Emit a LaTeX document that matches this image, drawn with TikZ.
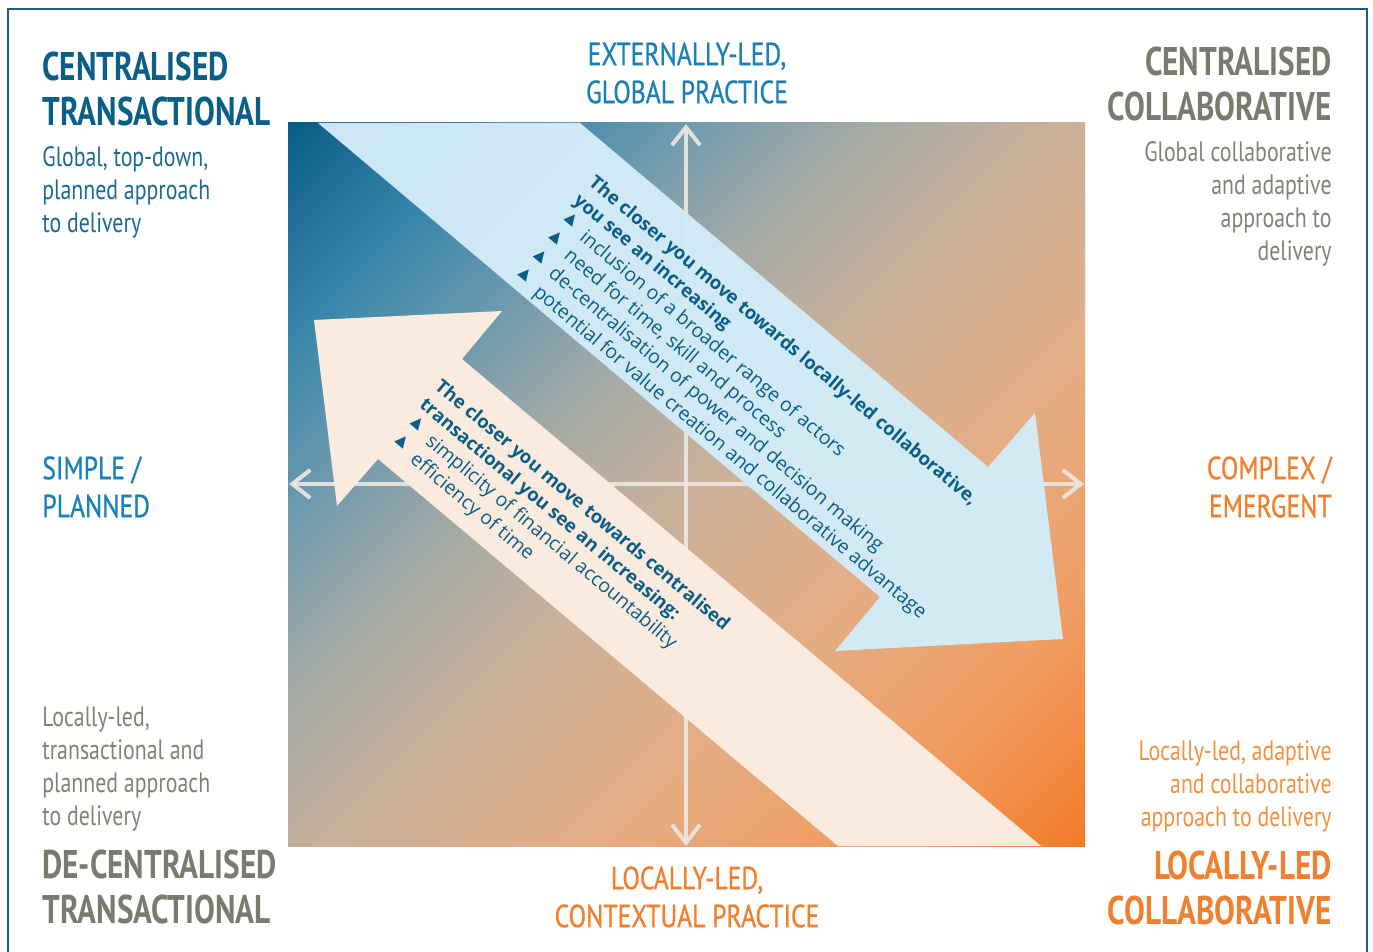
\documentclass[tikz,border=0pt]{standalone}
\usepackage{fontspec}
\usetikzlibrary{arrows.meta}
\newfontfamily\headfont{PT Sans}[FakeStretch=0.78]
\newfontfamily\labelfont{PT Sans}[FakeStretch=0.8, FakeBold=0.7]
\newfontfamily\arrowfont{Open Sans}
\newfontfamily\symfont{DejaVu Sans}

\definecolor{frameblue}{HTML}{1D5C88}
\definecolor{darkblue}{HTML}{0B5E87}
\definecolor{midblue}{HTML}{1A6A95}
\definecolor{axisblue}{HTML}{1A80B5}
\definecolor{headgray}{HTML}{7A7A6E}
\definecolor{textgray}{HTML}{818178}
\definecolor{headorange}{HTML}{F07F2E}
\definecolor{textorange}{HTML}{F3903F}
\definecolor{arrowblue}{HTML}{D3ECF8}
\definecolor{arrowcream}{HTML}{FBEBDF}
\definecolor{axisline}{HTML}{EEE8E2}
\definecolor{qa}{HTML}{0A5C88}
\definecolor{qb}{HTML}{3A87AA}
\definecolor{qc}{HTML}{6F9AAE}
\definecolor{qd}{HTML}{A3AAA6}
\definecolor{qe}{HTML}{C8B09A}
\definecolor{qf}{HTML}{E3AE86}
\definecolor{qg}{HTML}{F09D63}
\definecolor{qh}{HTML}{F47B2A}

\pgfdeclarehorizontalshading{quadrant}{100bp}{color(0bp)=(qa); color(14.6bp)=(qa);
  color(25bp)=(qb); color(33bp)=(qc); color(41bp)=(qd); color(50bp)=(qe);
  color(62bp)=(qf); color(74bp)=(qg); color(85.4bp)=(qh); color(100bp)=(qh)}

\newcommand{\arrowbullet}{\makebox[14pt][l]{\hspace{2pt}\raisebox{3.5pt}{\symfont\fontsize{7.5}{7}\selectfont ▲}}}
\newcommand{\arrowtitle}[1]{{\fontsize{9.3}{12}\selectfont\bfseries #1}}

\tikzset{
  heading/.style={inner sep=0, font={\headfont\bfseries\fontsize{20}{22.5}\selectfont}},
  body/.style={inner sep=0, font={\headfont\fontsize{14}{16.5}\selectfont}},
  axislabel/.style={inner sep=0, text=axisblue, font={\labelfont\fontsize{16}{19}\selectfont}},
  axis/.style={line width=2pt, draw=axisline, draw opacity=0.9, {Straight Barb[length=9pt,width=14pt]}-{Straight Barb[length=9pt,width=14pt]}},
  arrowtext/.style={inner sep=0, rotate=-40, anchor=north west, align=left, text=darkblue,
    font={\arrowfont\fontsize{9.75}{12}\selectfont}}
}

\begin{document}
\begin{tikzpicture}[x=0.5pt, y=-0.5pt]
\useasboundingbox (0,0) rectangle (1373,952);

% Frame
\draw[frameblue, line width=0.75pt] (8,952) -- (8,9) -- (1367,9) -- (1367,952);

% Square
\shade[shading=quadrant, shading angle=-45] (288,123) rectangle (1085,846);

% Axes
\draw[axis] (686,846) -- (686,124);
\draw[axis] (289,484) -- (1084,484);

% Arrows
\fill[arrowblue, fill opacity=0.97] (318,123) -- (580,123) -- (988,467) -- (1035,413)
  -- (1063,639) -- (835,651) -- (880,597) -- cycle;
\fill[arrowcream] (838,846) -- (378,459) -- (337,506) -- (314,320) -- (502,311)
  -- (462,359) -- (1041,846) -- cycle;

\node[arrowtext] (blue-text) at (597,173) {%
  \arrowtitle{The closer you move towards locally-led collaborative,}\\
  \arrowtitle{you see an increasing}\\
  \arrowbullet inclusion of a broader range of actors\\
  \arrowbullet need for time, skill and process\\
  \arrowbullet de-centralisation of power and decision making\\
  \arrowbullet potential for value creation and collaborative advantage};
\node[arrowtext] (cream-text) at (443,377) {%
  \arrowtitle{The closer you move towards centralised}\\
  \arrowtitle{transactional you see an increasing:}\\
  \arrowbullet simplicity of financial accountability\\
  \arrowbullet efficiency of time};

% Corner labels
\node[heading, text=darkblue, anchor=north west, align=left] (ct-title) at (42,52) {CENTRALISED\\TRANSACTIONAL};
\node[body, text=midblue, anchor=north west, align=left] (ct-text) at (42,146) {Global, top-down,\\planned approach\\to delivery};

\node[heading, text=headgray, anchor=north east, align=right] (cc-title) at (1332,47) {CENTRALISED\\COLLABORATIVE};
\node[body, text=textgray, anchor=north east, align=right] (cc-text) at (1332,141) {Global collaborative\\and adaptive\\approach to\\delivery};

\node[body, text=textgray, anchor=north west, align=left] (dt-text) at (42,706) {Locally-led,\\transactional and\\planned approach\\to delivery};
\node[heading, text=headgray, anchor=north west, align=left] (dt-title) at (42,850) {DE-CENTRALISED\\TRANSACTIONAL};

\node[body, text=textorange, anchor=north east, align=right] (ll-text) at (1332,740) {Locally-led, adaptive\\and collaborative\\approach to delivery};
\node[heading, text=headorange, anchor=north east, align=right] (ll-title) at (1332,851) {LOCALLY-LED\\COLLABORATIVE};

% Axis labels
\node[axislabel, anchor=north, align=center] (ext-label) at (687,42) {EXTERNALLY-LED,\\GLOBAL PRACTICE};
\node[axislabel, anchor=north west, align=left] (simple-label) at (42,456) {SIMPLE /\\PLANNED};
\node[axislabel, text=headorange, anchor=north east, align=right] (complex-label) at (1332,456) {COMPLEX /\\EMERGENT};
\node[axislabel, text=headorange, anchor=north, align=center] (local-label) at (687,866) {LOCALLY-LED,\\CONTEXTUAL PRACTICE};

\end{tikzpicture}
\end{document}
